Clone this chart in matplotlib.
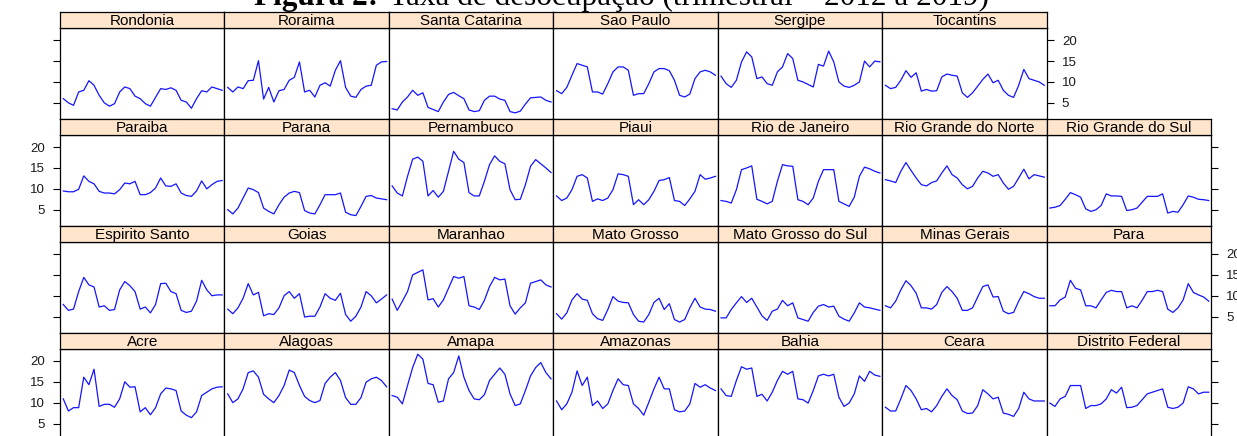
# Quarterly unemployment rate by state, 2012-2019, one small panel per state
import numpy as np
import matplotlib
matplotlib.use("Agg")
import matplotlib.pyplot as plt

quarters = 2012 + np.arange(32) / 4

rondonia = [6.0, 5.0, 4.4, 7.6, 8.0, 10.3, 9.2, 6.8, 5.0, 4.2, 4.8, 7.6, 8.8, 8.4, 6.6, 6.0,
            4.8, 4.2, 6.3, 8.4, 8.2, 8.6, 8.0, 5.6, 5.2, 3.7, 6.0, 7.9, 7.6, 8.8, 8.4, 8.0]
roraima = [8.7, 7.6, 8.8, 8.4, 10.3, 10.4, 15.1, 5.9, 8.7, 5.2, 7.9, 8.2, 10.4, 11.1, 14.8, 7.6,
           8.0, 6.4, 9.2, 9.8, 9.0, 12.8, 15.1, 8.7, 6.6, 6.3, 8.2, 9.0, 9.2, 14.0, 14.8, 14.9]
santa_catarina = [3.6, 3.3, 5.2, 6.4, 8.0, 6.8, 7.4, 3.9, 3.4, 2.9, 5.2, 7.0, 7.5, 6.7, 6.0, 3.3,
                  2.9, 3.1, 5.6, 6.6, 6.6, 5.9, 5.6, 2.9, 2.6, 3.0, 4.7, 6.2, 6.3, 6.4, 5.6, 5.2]
sao_paulo = [7.9, 7.2, 8.7, 11.6, 14.4, 14.0, 13.6, 7.6, 7.6, 7.1, 9.6, 12.4, 13.6, 13.6, 12.8, 6.8,
             7.2, 7.2, 9.6, 12.4, 13.2, 13.2, 12.7, 10.4, 6.8, 6.4, 7.1, 10.8, 12.4, 12.8, 12.4, 11.6]
sergipe = [11.4, 9.6, 8.7, 10.4, 14.8, 17.2, 16.0, 10.8, 11.2, 9.6, 9.2, 12.4, 13.6, 16.8, 15.6, 10.4,
           10.0, 9.4, 8.8, 14.2, 13.8, 17.4, 14.8, 10.0, 9.0, 8.7, 9.2, 10.0, 15.0, 13.6, 15.0, 14.8]
tocantins = [9.2, 8.4, 8.7, 10.4, 12.7, 11.1, 12.2, 7.8, 8.2, 7.8, 7.9, 11.2, 11.9, 11.6, 11.4, 7.4,
             6.3, 7.4, 9.0, 10.6, 11.9, 9.8, 10.4, 8.0, 6.8, 6.3, 9.2, 13.0, 10.8, 10.4, 10.0, 9.2]

paraiba = [9.5, 9.3, 9.3, 9.9, 13.1, 11.8, 11.2, 9.4, 9.0, 9.0, 8.8, 9.8, 11.4, 11.2, 11.8, 8.6,
           8.6, 9.1, 10.2, 12.6, 10.7, 10.6, 11.2, 9.0, 8.4, 8.2, 9.5, 11.9, 10.0, 11.0, 11.8, 12.0]
parana = [5.0, 4.0, 5.4, 7.8, 10.2, 9.8, 9.1, 5.4, 4.6, 4.0, 6.2, 8.0, 9.0, 9.4, 9.1, 4.8,
          4.2, 4.0, 6.2, 8.6, 8.6, 8.6, 9.0, 4.4, 3.8, 3.6, 5.8, 8.2, 8.4, 7.8, 7.6, 7.4]
pernambuco = [10.7, 9.0, 8.3, 13.0, 17.1, 17.6, 16.6, 8.3, 9.6, 8.0, 9.4, 14.2, 19.0, 17.1, 16.3, 9.1,
              8.3, 8.3, 11.8, 15.8, 17.9, 16.6, 16.0, 9.8, 7.4, 7.5, 11.0, 15.4, 17.0, 16.0, 15.0, 13.9]
piaui = [8.3, 7.2, 7.8, 9.8, 13.0, 13.4, 12.6, 7.0, 7.6, 7.2, 7.8, 9.8, 13.6, 13.4, 13.0, 6.2,
         7.4, 6.2, 7.4, 9.4, 12.0, 12.2, 12.7, 7.2, 7.0, 6.0, 7.6, 9.4, 13.4, 12.3, 12.6, 13.0]
rio_de_janeiro = [7.2, 7.0, 6.6, 9.8, 14.6, 15.0, 15.5, 7.5, 7.0, 6.4, 7.0, 11.8, 15.8, 15.5, 15.4, 7.4,
                  7.0, 6.2, 7.8, 11.8, 14.6, 14.6, 14.6, 7.0, 6.4, 5.8, 8.0, 13.0, 15.2, 14.8, 14.2, 13.8]
rio_grande_do_norte = [12.2, 11.9, 11.5, 14.2, 16.3, 14.4, 12.6, 11.0, 10.7, 11.5, 11.9, 13.8, 15.5, 13.4,
                       12.6, 11.0, 10.0, 10.6, 12.6, 14.2, 13.8, 13.0, 13.4, 11.4, 9.9, 10.6, 12.6, 14.7,
                       12.4, 13.4, 13.1, 12.8]
rio_grande_do_sul = [5.4, 5.6, 6.0, 7.5, 9.1, 8.6, 8.0, 5.2, 4.6, 5.0, 6.0, 8.8, 8.3, 8.3, 8.2, 4.8,
                     5.0, 5.4, 6.8, 8.2, 8.2, 8.2, 8.8, 4.2, 4.6, 4.4, 6.2, 8.3, 8.0, 7.5, 7.4, 7.2]

espirito_santo = [7.9, 6.5, 6.8, 11.0, 14.4, 12.6, 12.1, 7.3, 7.6, 6.5, 6.7, 11.4, 13.4, 12.4, 11.0, 6.8,
                  7.3, 5.9, 7.9, 12.9, 13.0, 11.0, 10.5, 6.5, 6.0, 6.3, 8.7, 13.7, 11.4, 10.0, 10.2, 10.2]
goias = [6.8, 5.7, 7.1, 9.4, 12.9, 10.2, 10.8, 5.2, 5.7, 5.5, 7.1, 10.0, 11.0, 9.4, 10.5, 4.9,
         5.1, 5.1, 7.3, 10.5, 9.4, 8.9, 10.6, 5.5, 3.9, 5.1, 7.3, 11.0, 10.0, 8.3, 9.2, 10.2]
maranhao = [9.2, 6.5, 8.7, 11.0, 15.0, 15.6, 16.2, 9.0, 9.3, 7.3, 9.0, 11.8, 14.6, 14.2, 14.6, 7.6,
            7.3, 6.7, 8.9, 12.2, 14.4, 13.8, 14.0, 7.6, 5.6, 7.1, 8.3, 13.0, 13.4, 13.8, 12.6, 12.1]
mato_grosso = [5.7, 4.4, 5.9, 9.0, 10.5, 9.2, 8.9, 5.7, 4.5, 4.1, 6.7, 9.8, 8.7, 8.4, 8.3, 5.5,
               3.9, 3.7, 5.5, 8.4, 9.4, 6.7, 8.1, 4.3, 3.7, 4.3, 7.1, 9.4, 7.3, 6.8, 6.7, 6.3]
mato_grosso_do_sul = [4.7, 4.7, 6.7, 8.3, 9.8, 8.4, 9.4, 7.3, 5.2, 4.1, 6.3, 6.8, 8.9, 7.6, 8.3, 4.7,
                      4.3, 3.9, 6.0, 7.5, 7.9, 7.3, 7.5, 5.1, 4.4, 3.9, 5.9, 8.3, 7.3, 7.1, 6.8, 6.5]
minas_gerais = [7.6, 7.1, 8.7, 11.4, 13.6, 12.4, 10.6, 7.1, 7.1, 6.8, 7.9, 10.8, 12.2, 11.0, 9.4, 6.5,
                6.5, 7.1, 9.7, 12.2, 12.6, 9.7, 9.8, 6.3, 5.7, 6.0, 8.7, 11.0, 10.5, 9.8, 9.4, 9.4]
para = [7.6, 7.6, 9.0, 9.7, 13.7, 11.8, 11.4, 7.6, 7.6, 7.1, 9.0, 10.8, 11.3, 11.0, 11.0, 7.1,
        7.6, 7.1, 8.9, 11.0, 11.0, 11.3, 11.0, 6.8, 6.0, 7.1, 9.0, 12.9, 10.8, 10.2, 9.7, 8.7]

acre = [10.9, 8.0, 8.8, 8.8, 16.1, 14.3, 18.0, 9.1, 9.6, 9.6, 8.9, 10.9, 15.0, 13.7, 13.8, 7.8,
        8.8, 7.1, 8.8, 12.1, 13.5, 13.3, 12.9, 8.0, 7.0, 6.4, 7.8, 11.7, 12.5, 13.3, 13.7, 13.8]
alagoas = [12.1, 10.0, 10.9, 13.3, 17.2, 17.6, 16.1, 12.0, 10.9, 10.0, 11.7, 14.1, 17.8, 17.2, 14.1, 11.5,
           10.5, 10.0, 10.5, 14.6, 16.1, 17.2, 15.3, 11.2, 9.6, 9.6, 11.2, 14.9, 15.7, 16.1, 15.3, 13.8]
amapa = [11.7, 11.3, 9.7, 14.1, 18.4, 21.6, 20.4, 14.6, 14.3, 10.1, 10.4, 15.7, 17.2, 21.2, 16.1, 12.9,
         10.9, 10.7, 11.9, 15.3, 16.8, 18.3, 16.8, 12.1, 9.3, 9.7, 12.9, 16.4, 18.4, 19.6, 17.2, 15.7]
amazonas = [10.4, 8.3, 9.7, 12.5, 17.6, 14.1, 16.1, 9.3, 10.4, 8.6, 9.7, 12.9, 15.7, 14.3, 14.1, 9.7,
            8.6, 7.0, 10.1, 13.3, 16.1, 13.3, 13.3, 8.3, 7.8, 8.0, 9.7, 14.6, 13.7, 14.3, 13.5, 12.9]
bahia = [13.3, 11.7, 11.5, 15.3, 18.6, 18.0, 18.3, 11.5, 12.0, 10.4, 12.5, 15.3, 17.5, 16.8, 17.5, 10.9,
         10.7, 9.9, 12.9, 16.4, 16.8, 16.4, 16.8, 11.3, 9.1, 9.9, 12.1, 16.4, 15.1, 17.5, 16.6, 16.3]
ceara = [8.9, 8.0, 8.0, 10.9, 14.1, 12.9, 10.9, 8.3, 8.6, 7.8, 9.3, 11.5, 13.3, 11.7, 10.7, 8.0,
         7.4, 7.5, 9.3, 13.1, 12.1, 10.9, 11.3, 7.5, 7.2, 6.7, 8.6, 12.5, 10.9, 10.4, 10.4, 10.4]
distrito_federal = [9.9, 9.1, 10.9, 11.5, 14.1, 14.1, 14.1, 8.6, 9.3, 9.3, 9.7, 10.9, 13.1, 12.3, 13.7, 8.8,
                    8.9, 9.3, 10.7, 12.1, 12.5, 12.9, 13.3, 8.9, 8.6, 8.9, 9.9, 13.8, 13.3, 12.1, 12.5, 12.5]

# panel rows, top to bottom
rows = [
    [("Rondonia", rondonia), ("Roraima", roraima), ("Santa Catarina", santa_catarina),
     ("Sao Paulo", sao_paulo), ("Sergipe", sergipe), ("Tocantins", tocantins)],
    [("Paraiba", paraiba), ("Parana", parana), ("Pernambuco", pernambuco), ("Piaui", piaui),
     ("Rio de Janeiro", rio_de_janeiro), ("Rio Grande do Norte", rio_grande_do_norte),
     ("Rio Grande do Sul", rio_grande_do_sul)],
    [("Espirito Santo", espirito_santo), ("Goias", goias), ("Maranhao", maranhao),
     ("Mato Grosso", mato_grosso), ("Mato Grosso do Sul", mato_grosso_do_sul),
     ("Minas Gerais", minas_gerais), ("Para", para)],
    [("Acre", acre), ("Alagoas", alagoas), ("Amapa", amapa), ("Amazonas", amazonas),
     ("Bahia", bahia), ("Ceara", ceara), ("Distrito Federal", distrito_federal)],
]
y_ticks = [5, 10, 15, 20]

plt.rcParams['font.family'] = ['Liberation Sans', 'DejaVu Sans']

W, H = 1237, 436
fig = plt.figure(figsize=(W / 100, H / 100), dpi=100)


def box(x, y, w, h):
    # pixel rectangle (top-left origin) -> figure fraction
    return [x / W, 1 - (y + h) / H, w / W, h / H]


left0 = 60
panel_w = 164.43
row_top = [12, 118.9, 225.8, 332.7]
strip_h = 16.5
body_h = 90.4

for r, row in enumerate(rows):
    for c, (name, values) in enumerate(row):
        x = left0 + c * panel_w
        ax = fig.add_axes(box(x, row_top[r] + strip_h, panel_w, body_h))
        ax.plot(quarters, values, color='#1414ff', lw=0.9)
        ax.set_xlim(2011.84, 2019.86)
        ax.set_ylim(1.15, 22.8)
        ax.set_xticks([])
        ax.set_yticks(y_ticks)
        first = c == 0
        last = c == len(row) - 1
        ax.tick_params(axis='y', direction='out', length=5, width=0.8, pad=6,
                       labelsize=9.5, labelcolor='#1a1a1a',
                       left=first, labelleft=first and r % 2 == 1,
                       right=last, labelright=last and r % 2 == 0)
        for s in ax.spines.values():
            s.set_linewidth(0.9)

        st = fig.add_axes(box(x, row_top[r], panel_w, strip_h))
        st.set_facecolor('#ffe5cc')
        st.set_xticks([])
        st.set_yticks([])
        for s in st.spines.values():
            s.set_linewidth(0.9)
        st.text(0.5, 0.45, name, ha='center', va='center', fontsize=11,
                transform=st.transAxes)

# figure caption: bold label followed by the plain title
base_y = 1 - 5 / H
fig.text(378 / W, base_y, "Figura 2:", family='Liberation Serif', weight='bold',
         fontsize=22.5, ha='right', va='baseline')
fig.text(389 / W, base_y, "Taxa de desocupação (trimestral – 2012 a 2019)",
         family='Liberation Serif', fontsize=22.5, ha='left', va='baseline')

plt.savefig('out.png', dpi=100)
